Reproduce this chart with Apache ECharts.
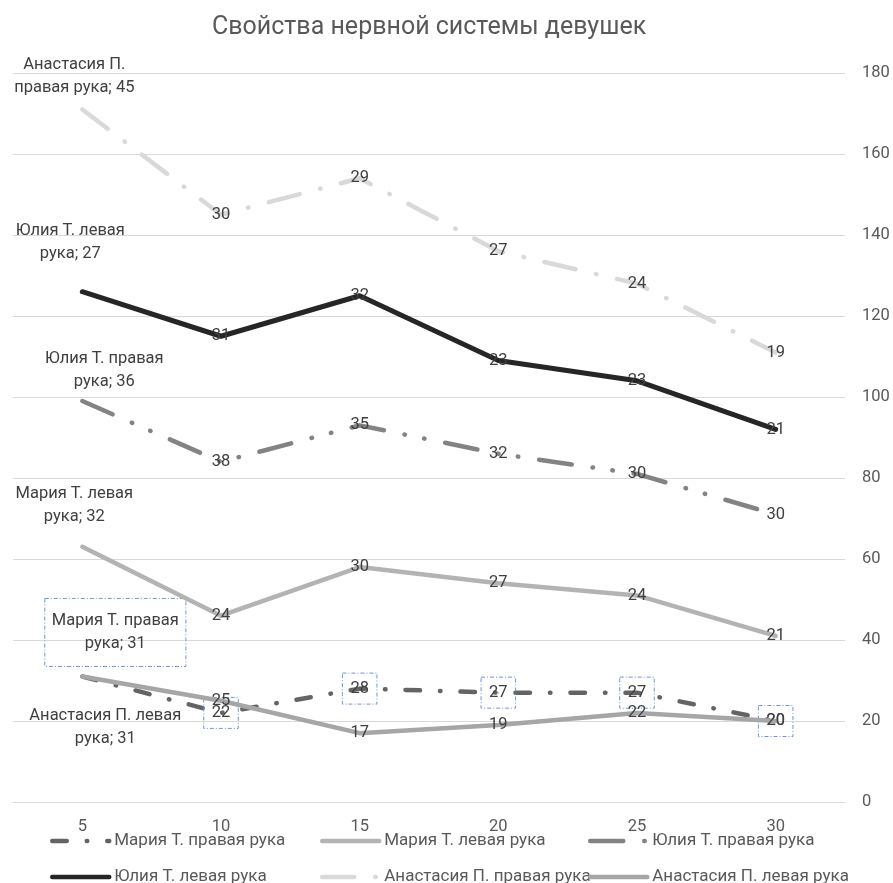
<!DOCTYPE html>
<html>
<head>
<meta charset="utf-8">
<script src="https://cdn.jsdelivr.net/npm/echarts@6/dist/echarts.min.js"></script>
<style>html,body{margin:0;padding:0;background:#fff;}#c{width:893px;height:883px;}</style>
</head>
<body>
<div id="c"></div>
<script>
const categories = ['5', '10', '15', '20', '25', '30'];
const seriesNames = ['Мария Т. правая рука', 'Мария Т. левая рука', 'Юлия Т. правая рука', 'Юлия Т. левая рука', 'Анастасия П. правая рука', 'Анастасия П. левая рука'];
const mariaRight = [31, 22, 28, 27, 27, 20];
const mariaLeft = [32, 24, 30, 27, 24, 21];
const yuliaRight = [36, 38, 35, 32, 30, 30];
const yuliaLeft = [27, 31, 32, 23, 23, 21];
const anastasiaRight = [45, 30, 29, 27, 24, 19];
const anastasiaLeft = [31, 25, 17, 19, 22, 20];
const yTicks = { min: 0, max: 180, interval: 20 };

const FONT = 'Roboto';
const TXT = '#404040';
const values = [mariaRight, mariaLeft, yuliaRight, yuliaLeft, anastasiaRight, anastasiaLeft];
const colors = ['#646464', '#b3b3b3', '#838383', '#262626', '#d9d9d9', '#a6a6a6'];
const widths = [4.5, 4.5, 4.5, 5, 4.5, 4.5];
const dashes = [[14.5, 20, 0.5, 20], 'solid', [33, 21, 0.5, 19.5, 0.5, 21], 'solid', [32, 21, 0.5, 21], 'solid'];
const stacked = [true, true, true, true, true, false];
// first line of the name in the first-point label (the rest wraps to the 2nd line)
const firstBreak = ['Мария Т. правая', 'Мария Т. левая', 'Юлия Т. правая', 'Юлия Т. левая', 'Анастасия П.', 'Анастасия П. левая'];
const firstOffset = [[33, -44], [-8, -41], [22, -31], [-12, -49], [-8, -33], [23, 51]];
const boxed = [true, false, false, false, false, false];

const boxStyle = { borderColor: '#6f95d8', borderWidth: 1, borderType: [4, 2, 1, 2], padding: [7, 8] };

const series = values.map((vals, i) => {
  const data = vals.map((v, j) => {
    if (j === 0) {
      const name = seriesNames[i];
      const rest = name.slice(firstBreak[i].length).trim();
      const lbl = {
        offset: firstOffset[i],
        align: 'center',
        lineHeight: 23,
        formatter: firstBreak[i] + '\n' + rest + '; ' + v
      };
      if (boxed[i]) Object.assign(lbl, boxStyle, { padding: [11, 7] });
      return { value: v, label: lbl };
    }
    return v;
  });
  const s = {
    name: seriesNames[i],
    type: 'line',
    data: data,
    symbol: 'circle',
    symbolSize: 1,
    showSymbol: true,
    itemStyle: { color: colors[i] },
    lineStyle: { color: colors[i], width: widths[i], type: dashes[i], cap: 'round', join: 'round' },
    label: Object.assign({
      show: true,
      position: 'inside',
      color: TXT,
      fontFamily: FONT,
      fontSize: 16.5
    }, boxed[i] ? boxStyle : {}),
    emphasis: { disabled: true },
    animation: false,
    z: 2 + i
  };
  if (stacked[i]) s.stack = 'total';
  return s;
});

const legendCols = [[0, 3], [1, 4], [2, 5]];
const legendLefts = [50, 320, 588];
const legends = legendCols.map((cols, k) => ({
  data: cols.map(c => seriesNames[c]),
  orient: 'vertical',
  left: legendLefts[k],
  top: 831,
  height: 70,
  padding: 0,
  itemWidth: 57,
  itemHeight: 14,
  itemGap: 16,
  itemStyle: { opacity: 0 },
  lineStyle: { width: 4.5 },
  selectedMode: false,
  textStyle: { color: '#595959', fontFamily: FONT, fontSize: 17, lineHeight: 20 }
}));

const chart = echarts.init(document.getElementById('c'), null, { renderer: 'canvas' });
chart.setOption({
  backgroundColor: '#fff',
  animation: false,
  title: {
    text: 'Свойства нервной системы девушек',
    left: 207,
    top: 10,
    textStyle: { color: '#595959', fontFamily: FONT, fontSize: 25, fontWeight: 'normal' }
  },
  legend: legends,
  grid: { left: 13, right: 48, top: 73, bottom: 81, containLabel: false },
  xAxis: {
    type: 'category',
    data: categories,
    boundaryGap: true,
    axisLine: { show: true, lineStyle: { color: '#d9d9d9' } },
    axisTick: { show: false },
    axisLabel: { color: '#595959', fontFamily: FONT, fontSize: 16.5, margin: 16 }
  },
  yAxis: {
    type: 'value',
    position: 'right',
    min: yTicks.min,
    max: yTicks.max,
    interval: yTicks.interval,
    axisLine: { show: false },
    axisTick: { show: false },
    splitLine: { lineStyle: { color: '#d9d9d9', width: 1 } },
    axisLabel: { color: '#595959', fontFamily: FONT, fontSize: 16.5, margin: 17 }
  },
  series: series
});
</script>
</body>
</html>
